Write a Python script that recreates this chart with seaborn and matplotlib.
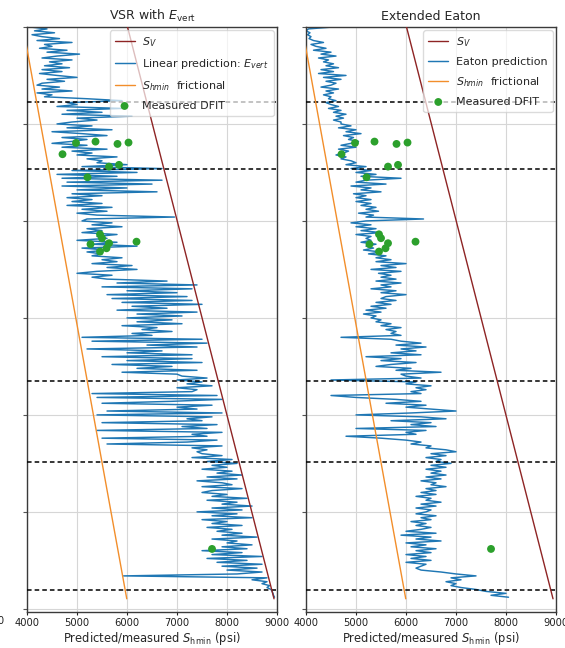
import numpy as np
import pandas as pd
import matplotlib
matplotlib.use("Agg")
import matplotlib.pyplot as plt
import seaborn as sns

# ---------------- data ----------------
depth_ft = np.arange(5000, 7950, 10)  # log sampling depth (ft)

vsr_pred = [
    4050, 4400, 4150, 4550, 4100, 4300, 4650, 4200, 4900, 4350,
    4500, 4250, 4800, 4400, 5050, 4600, 4300, 4900, 4450, 4700,
    4350, 4850, 4300, 4700, 4250, 4600, 5000, 4400, 4750, 4300,
    4200, 4650, 4300, 4900, 4200, 4500, 4350, 5200, 5900, 4800,
    5000, 4600, 5900, 4800, 5500, 4700, 6100, 5000, 5400, 4900,
    4600, 5300, 4800, 5700, 4500, 5100, 5600, 4700, 5200, 4900,
    4500, 5200, 4700, 5600, 4900, 5300, 5000, 5800, 5200, 5500,
    5400, 6000, 5100, 6700, 4900, 6200, 4600, 5800, 4700, 6700,
    4800, 6500, 4700, 6000, 5000, 6600, 4900, 5500, 4800, 5300,
    4900, 5500, 4800, 5700, 5100, 5600, 5000, 5400, 6950, 5200,
    5100, 5700, 5300, 5900, 5200, 5500, 5100, 5800, 5400, 5600,
    5000, 5800, 5300, 6200, 5100, 5600, 5200, 5500, 5300, 5900,
    5500, 5800, 5300, 6100, 5600, 6200, 5400, 5000, 5700, 5300,
    5600, 6800, 5800, 7400, 5500, 7300, 6000, 7000, 5600, 7200,
    5700, 7300, 5900, 7500, 6100, 6800, 5800, 7400, 6200, 7100,
    6000, 6900, 6200, 7100, 5900, 6600, 6300, 6900, 6100, 6500,
    5100, 7500, 5300, 7600, 6400, 7400, 5200, 6700, 6000, 7300,
    5500, 7300, 6000, 7500, 5700, 6900, 6200, 7400, 5900, 7000,
    7100, 7600, 7000, 7500, 7200, 7700, 7000, 7400, 7300, 5300,
    7800, 5400, 7900, 6900, 5500, 7700, 7000, 7400, 5600, 7900,
    5400, 7700, 7200, 7500, 5500, 7800, 7100, 7600, 5400, 7900,
    7300, 7600, 5500, 7800, 7200, 5600, 7900, 7300, 7600, 7400,
    7500, 7900, 7300, 8100, 7600, 8200, 7700, 8000, 7500, 8100,
    7800, 8300, 7600, 8200, 7400, 7900, 8100, 7500, 8300, 7700,
    7500, 8000, 7700, 8400, 7600, 8200, 7900, 8500, 7700, 8300,
    7400, 8200, 7700, 8500, 7500, 8000, 7700, 8300, 7600, 8100,
    7800, 8300, 7900, 8600, 7700, 8200, 8000, 8500, 7900, 8400,
    7500, 8300, 7700, 8700, 7600, 8400, 7800, 8700, 7900, 8600,
    8000, 8700, 8200, 5930, 8800, 8500, 8800, 8700, 8850, 8800,
    8880, 8900, 8920, 8930, 8950,
]

eaton_pred = [
    4550, 4050, 4000, 4080, 4030, 4100, 4060, 4150, 4350, 4100,
    4200, 4400, 4150, 4500, 4300, 4600, 4250, 4450, 4350, 4550,
    4400, 4650, 4300, 4550, 4250, 4800, 4350, 4700, 4400, 4600,
    4500, 4300, 4650, 4400, 4550, 4350, 4500, 4450, 4600, 4400,
    4500, 4650, 4450, 4700, 4550, 4800, 4600, 4750, 4550, 4700,
    4700, 4900, 4650, 5000, 4800, 5100, 4750, 4950, 4850, 5050,
    4900, 4700, 5000, 4650, 4850, 4750, 4600, 4800, 4700, 4900,
    5000, 4800, 5200, 4900, 5300, 5000, 5400, 5100, 5900, 5200,
    5000, 5600, 4900, 5300, 5100, 5500, 4950, 5200, 5000, 5300,
    5000, 5300, 5100, 5400, 5200, 5450, 5050, 5350, 5200, 6350,
    5200, 4900, 5300, 5000, 5400, 5100, 5500, 5000, 5300, 5200,
    5300, 5100, 5400, 5200, 5350, 5150, 5500, 5250, 5600, 5400,
    5700, 5400, 6000, 5500, 5800, 5300, 5900, 5450, 5700, 5500,
    5800, 5400, 5900, 5500, 5700, 5300, 5800, 5500, 6000, 5600,
    5500, 5800, 5400, 5700, 5300, 5600, 5200, 5500, 5150, 5400,
    5300, 5500, 5400, 5700, 5500, 5900, 5600, 5800, 5700, 5900,
    4700, 5700, 5900, 6300, 5800, 6400, 5900, 6200, 5700, 6300,
    5200, 5900, 5500, 6200, 5700, 5400, 6100, 5800, 6700, 5900,
    6000, 6300, 4500, 6200, 6000, 6500, 6200, 6400, 6100, 6300,
    4500, 5000, 5800, 6300, 5600, 6400, 6000, 6500, 7000, 6100,
    5000, 6300, 6800, 5700, 6500, 6100, 6600, 5000, 6400, 6000,
    6200, 4800, 5500, 6000, 6300, 6100, 6500, 6400, 6800, 7000,
    6500, 6800, 6400, 6700, 6600, 6900, 6500, 6800, 6400, 6700,
    6500, 6800, 6400, 6700, 6300, 6600, 6500, 6800, 6400, 6600,
    6300, 6600, 6200, 6500, 6400, 6700, 6300, 6600, 6200, 6500,
    6400, 6200, 6600, 6300, 6500, 6100, 6400, 6200, 6500, 6300,
    6000, 6600, 5900, 6500, 6200, 6700, 6000, 6400, 6100, 6600,
    6200, 6500, 6000, 6400, 6100, 6500, 6000, 6400, 6300, 6200,
    6300, 6700, 7000, 7400, 6900, 7100, 6800, 7000, 6900, 7100,
    7400, 7600, 8000, 7700, 8050,
]

trend_depth = [5000, 7948]
sv_psi = [6010, 8940]
shmin_fric_psi = [3920, 5995]

dfit_depth = [5598, 5591, 5603, 5596, 5656, 5720, 5711, 5775,
              6069, 6089, 6120, 6115, 6141, 6158, 6107, 7691]
dfit_psi = [4980, 5370, 5810, 6030, 4710, 5640, 5840, 5210,
            5460, 5500, 5270, 5640, 5590, 5460, 6190, 7700]

formation_tops = [5387, 5732, 6825, 7242, 7902]

x_ticks = [4000, 5000, 6000, 7000, 8000, 9000]
depth_ticks = [5000, 5500, 6000, 6500, 7000, 7500, 8000]

titles = ["VSR with $E_{\\mathrm{vert}}$", "Extended Eaton"]
pred_labels = ["Linear prediction: $E_{vert}$", "Eaton prediction"]
predictions = [vsr_pred, eaton_pred]

# ---------------- style ----------------
sns.set_theme(style="whitegrid")
plt.rcParams.update({
    "font.family": ["DejaVu Sans"],
    "axes.edgecolor": "#333333",
    "axes.linewidth": 1.0,
    "grid.color": "#d6d6d6",
    "grid.linewidth": 0.8,
})

C_SV = "#8e2424"
C_PRED = "#1f77b4"
C_FRIC = "#f28e2b"
C_DFIT = "#2ca02c"

fig = plt.figure(figsize=(5.65, 6.48), dpi=100)
ax_pos = [[0.0478, 0.0556, 0.4425, 0.9028],
          [0.5416, 0.0556, 0.4425, 0.9028]]

for i in range(2):
    ax = fig.add_axes(ax_pos[i])
    df_pred = pd.DataFrame({"psi": predictions[i], "depth": depth_ft})
    df_trend = pd.DataFrame({"sv": sv_psi, "fric": shmin_fric_psi, "depth": trend_depth})
    df_dfit = pd.DataFrame({"psi": dfit_psi, "depth": dfit_depth})

    for d in formation_tops:
        ax.axhline(d, color="black", ls=(0, (3, 2)), lw=1.1, zorder=3)

    sns.lineplot(data=df_trend, x="sv", y="depth", sort=False, estimator=None,
                 color=C_SV, lw=1.0, ax=ax, label="$S_V$", zorder=4)
    sns.lineplot(data=df_pred, x="psi", y="depth", sort=False, estimator=None,
                 color=C_PRED, lw=1.05, ax=ax, label=pred_labels[i], zorder=2)
    sns.lineplot(data=df_trend, x="fric", y="depth", sort=False, estimator=None,
                 color=C_FRIC, lw=1.0, ax=ax, label="$S_{hmin}$  frictional", zorder=4)
    sns.scatterplot(data=df_dfit, x="psi", y="depth", color=C_DFIT, s=32,
                    edgecolor="none", ax=ax, label="Measured DFIT", zorder=5)

    ax.set_xlim(4000, 9000)
    ax.set_ylim(8016, 5000)
    ax.set_xticks(x_ticks)
    ax.set_xticklabels([str(t) for t in x_ticks], fontsize=7.2)
    ax.set_yticks(depth_ticks)
    ax.set_yticklabels([""] * len(depth_ticks))
    ax.set_ylabel("")
    ax.set_xlabel("Predicted/measured $S_{\\mathrm{hmin}}$ (psi)", fontsize=8.3, labelpad=2)
    ax.set_title(titles[i], fontsize=9, pad=5)
    ax.tick_params(axis="x", bottom=True, length=2.5, width=0.8, pad=1.5, colors="#222222")
    ax.tick_params(axis="y", left=True, length=3, width=0.8, colors="#555555")
    for sp in ax.spines.values():
        sp.set_color("#3a3a3a")
    ax.grid(True)
    ax.legend(loc="upper right", fontsize=8, labelspacing=0.72, framealpha=0.7,
              edgecolor="#cccccc", borderpad=0.45, borderaxespad=0.3,
              handlelength=1.8, handletextpad=0.7)

# fragment of a neighbouring panel's tick label, cut by the crop
fig.text(5 / 565, 1 - 621 / 648, "9000", fontsize=7.2, ha="right", va="center",
         color="#222222")

fig.savefig("out.png", dpi=100)
